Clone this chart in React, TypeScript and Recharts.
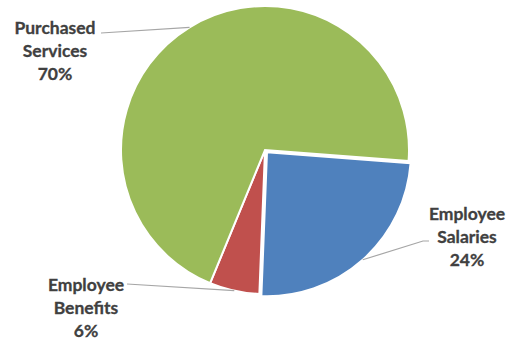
import { PieChart, Pie, Cell } from 'recharts';

const categories = ['Employee Salaries', 'Employee Benefits', 'Purchased Services'];
const shares = [24.4, 5.6, 70.0];
const colors = ['#4F81BD', '#C0504D', '#9BBB59'];

const data = categories.map((name, i) => ({ name, value: shares[i] }));

const CX = 265;
const CY = 150;
const R = 144;
const START = -4.4;
// exploded slice (salaries) is pushed out a little along its bisector
const EXPLODE = 3;

// where each callout goes: elbow of the leader line and the text block
const labelLayout: Record<string, { pts: number[][]; tx: number; ty: number }> = {
  'Purchased Services': { pts: [[101, 33]], tx: 55, ty: 27 },
  'Employee Salaries': { pts: [[423, 241], [429, 241]], tx: 467, ty: 213 },
  'Employee Benefits': { pts: [[127, 284]], tx: 86, ty: 284 },
};

const RAD = Math.PI / 180;

function explodeOffset(midAngle: number) {
  return [EXPLODE * Math.cos(-midAngle * RAD), EXPLODE * Math.sin(-midAngle * RAD)];
}

function renderLabel(props: any) {
  const { cx, cy, midAngle, outerRadius, name, percent } = props;
  const layout = labelLayout[name];
  if (!layout) return null;
  let ox = 0;
  let oy = 0;
  if (name === 'Employee Salaries') {
    [ox, oy] = explodeOffset(midAngle);
  }
  const rx = cx + ox + outerRadius * Math.cos(-midAngle * RAD);
  const ry = cy + oy + outerRadius * Math.sin(-midAngle * RAD);
  const points = [[rx, ry], ...layout.pts].map((p) => p.join(',')).join(' ');
  const lines = [...name.split(' '), `${Math.round(percent * 100)}%`];
  return (
    <g>
      <polyline points={points} fill="none" stroke="#A6A6A6" strokeWidth={1.2} />
      {lines.map((t, i) => (
        <text
          key={i}
          x={layout.tx}
          y={layout.ty + i * 23}
          textAnchor="middle"
          dominantBaseline="central"
          fill="#404040"
          stroke="#404040"
          strokeWidth={0.3}
          fontSize={17.5}
          fontWeight="bold"
          fontFamily="Lato, 'Open Sans', sans-serif"
        >
          {t}
        </text>
      ))}
    </g>
  );
}

export default function App() {
  const total = shares.reduce((s, v) => s + v, 0);
  const blueMid = START - ((shares[0] / total) * 360) / 2;
  const [dx, dy] = explodeOffset(blueMid);

  return (
    <div style={{ position: 'absolute', left: 0, top: 0, background: '#fff' }}>
      <PieChart width={512} height={339} margin={{ top: 0, right: 0, bottom: 0, left: 0 }}>
        <Pie
          data={data}
          dataKey="value"
          nameKey="name"
          cx={CX}
          cy={CY}
          outerRadius={R}
          startAngle={START}
          endAngle={START - 360}
          stroke="#fff"
          strokeWidth={2}
          isAnimationActive={false}
          label={renderLabel}
          labelLine={false}
        >
          {data.map((entry, index) => (
            <Cell
              key={`cell-${index}`}
              fill={index === 0 ? 'transparent' : colors[index]}
              stroke={index === 0 ? 'none' : '#fff'}
            />
          ))}
        </Pie>
        <Pie
          data={data}
          dataKey="value"
          nameKey="name"
          cx={CX + dx}
          cy={CY + dy}
          outerRadius={R}
          startAngle={START}
          endAngle={START - 360}
          stroke="#fff"
          strokeWidth={2}
          isAnimationActive={false}
        >
          {data.map((entry, index) => (
            <Cell
              key={`cellx-${index}`}
              fill={index === 0 ? colors[0] : 'transparent'}
              stroke={index === 0 ? '#fff' : 'none'}
            />
          ))}
        </Pie>
      </PieChart>
    </div>
  );
}
